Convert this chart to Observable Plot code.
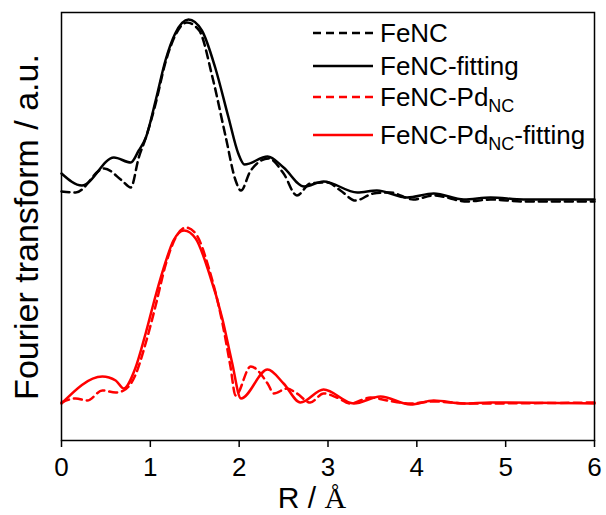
<!DOCTYPE html>
<html>
<head>
<meta charset="utf-8">
<script src="https://cdn.jsdelivr.net/npm/d3@7"></script>
<script src="https://cdn.jsdelivr.net/npm/@observablehq/plot@0.6"></script>
<style>
  html, body { margin: 0; padding: 0; background: #fff; }
  svg { display: block; }
</style>
</head>
<body>
<div id="chart"></div>
<script>
// R (Å) and FT magnitude (arbitrary units)
const R_fenc = [0, 0.16, 0.48, 0.68, 0.78, 0.87, 0.95, 1.06, 1.17, 1.28, 1.41, 1.55, 1.70, 1.85, 1.96, 2.02, 2.13, 2.33, 2.50, 2.65, 2.80, 2.99, 3.14, 3.31, 3.51, 3.70, 3.96, 4.19, 4.57, 4.83, 5.2, 6.0];
const I_fenc = [249, 248, 272, 260, 253, 283, 303, 337, 378, 405, 418, 410, 363, 303, 260, 250, 270, 282, 267, 245, 257, 258, 250, 240, 247, 248, 241, 245, 239, 241, 239, 239];

const R_fencFit = [0, 0.23, 0.59, 0.78, 0.87, 0.95, 1.06, 1.17, 1.28, 1.43, 1.58, 1.73, 1.88, 1.99, 2.06, 2.32, 2.50, 2.73, 2.95, 3.33, 3.55, 3.89, 4.19, 4.53, 4.83, 5.2, 6.0];
const I_fencFit = [267, 255, 283, 278, 290, 303, 340, 380, 407, 421, 410, 373, 323, 287, 276, 284, 273, 254, 259, 248, 250, 243, 247, 241, 243, 241, 241];

const R_pd = [0, 0.16, 0.29, 0.46, 0.61, 0.70, 0.83, 0.95, 1.06, 1.17, 1.28, 1.40, 1.51, 1.66, 1.81, 1.90, 1.96, 2.13, 2.32, 2.39, 2.54, 2.65, 2.80, 2.95, 3.10, 3.25, 3.48, 3.67, 3.93, 4.19, 4.57, 6.0];
const I_pd = [38, 42, 40, 50, 48, 50, 65, 98, 135, 175, 202, 213, 207, 172, 118, 75, 45, 74, 57, 47, 52, 47, 38, 47, 43, 37, 43, 40, 37, 39, 37, 38];

const R_pdFit = [0, 0.46, 0.61, 0.70, 0.83, 0.95, 1.06, 1.17, 1.26, 1.38, 1.51, 1.66, 1.81, 1.92, 2.02, 2.32, 2.50, 2.69, 2.95, 3.29, 3.59, 3.93, 4.19, 4.53, 4.83, 6.0];
const I_pdFit = [37, 64, 60, 52, 72, 108, 145, 178, 200, 210, 202, 168, 122, 78, 42, 71, 57, 38, 51, 37, 44, 36, 40, 37, 38, 37];

const xTicks = [0, 1, 2, 3, 4, 5, 6];

const seriesNames = ["FeNC", "FeNC-fitting", "FeNC-Pd_NC", "FeNC-Pd_NC-fitting"];
const seriesColors = ["#000000", "#000000", "#ff0000", "#ff0000"];
const seriesDashed = [true, false, true, false];

const zip = (xs, ys) => xs.map((x, i) => ({x, y: ys[i]}));
const series = [
  zip(R_fenc, I_fenc),
  zip(R_fencFit, I_fencFit),
  zip(R_pd, I_pd),
  zip(R_pdFit, I_pdFit)
];

const W = 606, H = 515;
const lineMarks = series.map((d, i) => Plot.line(d, {
  x: "x", y: "y",
  stroke: seriesColors[i],
  strokeWidth: 2.5,
  strokeDasharray: seriesDashed[i] ? "8,5" : null,
  curve: "monotone-x"
}));

const chart = Plot.plot({
  width: W,
  height: H,
  marginLeft: 61,
  marginRight: 12,
  marginTop: 12,
  marginBottom: 75,
  style: {fontFamily: "'Liberation Sans', Arial, sans-serif", color: "#000", background: "#fff"},
  x: {domain: [0, 6]},
  y: {domain: [0, 428], axis: null},
  marks: [
    ...lineMarks,
    Plot.frame({stroke: "#000", strokeWidth: 1.5}),
    Plot.axisX({ticks: xTicks, tickSize: 7, tickPadding: 10, fontSize: 26, strokeWidth: 1.5, label: null, tickFormat: d => String(d)})
  ]
});
document.getElementById("chart").appendChild(chart);

// Titles and legend (need tspans for subscripts / serif Å)
const svg = d3.select(chart);
const ff = "'Liberation Sans', Arial, sans-serif";

svg.append("text")
  .attr("transform", "translate(38,227) rotate(-90)")
  .attr("text-anchor", "middle")
  .attr("font-family", ff)
  .attr("font-size", 34)
  .attr("fill", "#000")
  .text("Fourier transform / a.u.");

const xl = svg.append("text")
  .attr("x", 312).attr("y", 508)
  .attr("text-anchor", "middle")
  .attr("font-family", ff)
  .attr("font-size", 30)
  .attr("fill", "#000");
xl.append("tspan").text("R / ");
xl.append("tspan").attr("font-family", "'Liberation Serif', 'Times New Roman', serif").text("Å");

const legendLineY = [33, 66, 97, 135];
const legendG = svg.append("g").attr("text-anchor", "start");
seriesNames.forEach((name, i) => {
  const y = legendLineY[i];
  legendG.append("line")
    .attr("x1", 313).attr("x2", 373).attr("y1", y).attr("y2", y)
    .attr("stroke", seriesColors[i]).attr("stroke-width", 2.5)
    .attr("stroke-dasharray", seriesDashed[i] ? "8,5" : null);
  const t = legendG.append("text")
    .attr("x", 380).attr("y", y + 9)
    .attr("text-anchor", "start")
    .attr("font-family", ff).attr("font-size", 26).attr("fill", "#000");
  const parts = name.split("_NC");
  t.append("tspan").text(parts[0]);
  if (parts.length > 1) {
    t.append("tspan").attr("font-size", 18).attr("dy", 6).text("NC");
    if (parts[1]) t.append("tspan").attr("dy", -6).text(parts[1]);
  }
});
</script>
</body>
</html>
